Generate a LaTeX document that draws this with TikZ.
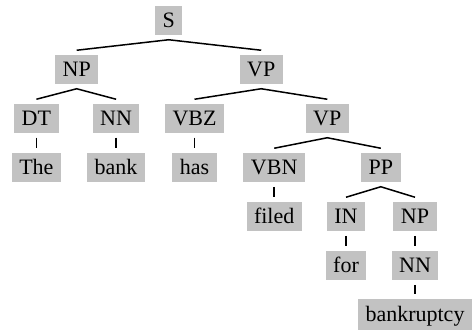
\documentclass[tikz,border=0pt]{standalone}
\usepackage{fontspec}
\setmainfont{Liberation Serif}
\definecolor{boxgray}{RGB}{194,194,194}
\begin{document}
\begin{tikzpicture}[x=1pt,y=-1pt,
  tag/.style={fill=boxgray, inner xsep=7.5pt, inner ysep=2.5pt,
    text height=19pt, text depth=4.5pt, outer sep=0pt, outer ysep=5pt,
    font=\fontsize{22}{26}\selectfont},
  edge/.style={line width=1.5pt, black}]
\useasboundingbox (0,0) rectangle (473,331);
% row 0
\node[tag] (S) at (168.7,20.5) {S};
% row 1
\node[tag] (NP) at (76.7,69.5) {NP};
\node[tag] (VP) at (261.2,69.5) {VP};
% row 2
\node[tag] (DT) at (36.4,118.5) {DT};
\node[tag] (NN) at (116.1,118.5) {NN};
\node[tag] (VBZ) at (194.5,118.5) {VBZ};
\node[tag] (VPb) at (327.3,118.5) {VP};
% row 3
\node[tag] (The) at (36.4,167.5) {The};
\node[tag] (bank) at (116.1,167.5) {bank};
\node[tag] (has) at (194.5,167.5) {has};
\node[tag] (VBN) at (274.2,167.5) {VBN};
\node[tag] (PP) at (380.8,167.5) {PP};
% row 4
\node[tag] (filed) at (274.2,216.5) {filed};
\node[tag] (IN) at (346,216.5) {IN};
\node[tag] (NPb) at (415,216.5) {NP};
% row 5
\node[tag] (for) at (346,265.5) {for};
\node[tag] (NNb) at (415,265.5) {NN};
% row 6
\node[tag, inner ysep=3.5pt] (bankruptcy) at (415,314.5) {bankruptcy};
% edges
\draw[edge] (NP.north) -- (S.south) -- (VP.north);
\draw[edge] (DT.north) -- (NP.south) -- (NN.north);
\draw[edge] (VBZ.north) -- (VP.south) -- (VPb.north);
\draw[edge] (VBN.north) -- (VPb.south) -- (PP.north);
\draw[edge] (IN.north) -- (PP.south) -- (NPb.north);
\draw[edge] (DT.south) -- (The.north);
\draw[edge] (NN.south) -- (bank.north);
\draw[edge] (VBZ.south) -- (has.north);
\draw[edge] (VBN.south) -- (filed.north);
\draw[edge] (IN.south) -- (for.north);
\draw[edge] (NPb.south) -- (NNb.north);
\draw[edge] (NNb.south) -- (bankruptcy.north);
\end{tikzpicture}
\end{document}
